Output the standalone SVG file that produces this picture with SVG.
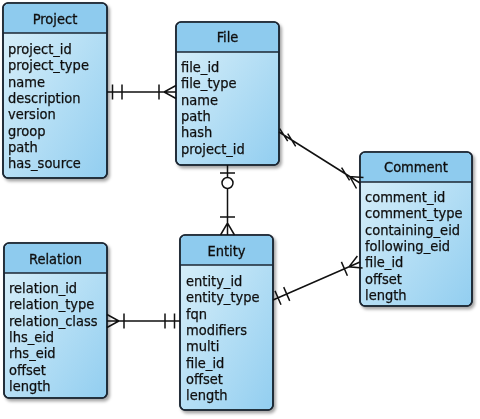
<svg xmlns="http://www.w3.org/2000/svg" width="480" height="419" viewBox="0 0 480 419">
<style>
.box{fill:url(#body);stroke:#1b2733;stroke-width:1.6}
.hdr{fill:#8ecbee;stroke:none}
.div{stroke:#1b2733;stroke-width:1.4}
.t{font-family:"DejaVu Sans Condensed","DejaVu Sans",Verdana,sans-serif;font-stretch:condensed;font-size:14.5px;fill:#111;stroke:#111;stroke-width:0.25}
.h{font-family:"DejaVu Sans Condensed","DejaVu Sans",Verdana,sans-serif;font-stretch:condensed;font-size:14.5px;fill:#111;stroke:#111;stroke-width:0.3;text-anchor:middle}
.c{stroke:#111;stroke-width:1.5;fill:none}
</style>
<defs>
<linearGradient id="body" x1="0" y1="0" x2="1" y2="1">
<stop offset="0" stop-color="#dcf1fa"/>
<stop offset="1" stop-color="#92cef0"/>
</linearGradient>
<filter id="sh" x="-10%" y="-10%" width="130%" height="130%">
<feDropShadow dx="2" dy="2.5" stdDeviation="1.6" flood-color="#000" flood-opacity="0.35"/>
</filter>
</defs>

<g id="project" filter="url(#sh)">
<rect class="box" x="3" y="3" width="104" height="175" rx="5"/>
<path class="hdr" d="M3.8,33 V8 A5,5 0 0 1 8,3.8 H102 A5,5 0 0 1 106.2,8 V33 Z"/>
<line class="div" x1="3" y1="33" x2="107" y2="33"/>
<rect x="3" y="3" width="104" height="175" rx="5" fill="none" stroke="#1b2733" stroke-width="1.6"/>
<text class="h" x="55" y="24">Project</text>
<text class="t" x="8" y="54">project_id</text>
<text class="t" x="8" y="70.3">project_type</text>
<text class="t" x="8" y="86.6">name</text>
<text class="t" x="8" y="102.9">description</text>
<text class="t" x="8" y="119.2">version</text>
<text class="t" x="8" y="135.5">groop</text>
<text class="t" x="8" y="151.8">path</text>
<text class="t" x="8" y="168.1">has_source</text>
</g>

<g id="file" filter="url(#sh)">
<rect class="box" x="176" y="22" width="103" height="143" rx="5"/>
<path class="hdr" d="M176.8,52 V27 A5,5 0 0 1 181,22.8 H274 A5,5 0 0 1 278.2,27 V52 Z"/>
<line class="div" x1="176" y1="52" x2="279" y2="52"/>
<rect x="176" y="22" width="103" height="143" rx="5" fill="none" stroke="#1b2733" stroke-width="1.6"/>
<text class="h" x="227.5" y="42">File</text>
<text class="t" x="181" y="72">file_id</text>
<text class="t" x="181" y="88.3">file_type</text>
<text class="t" x="181" y="104.6">name</text>
<text class="t" x="181" y="120.9">path</text>
<text class="t" x="181" y="137.2">hash</text>
<text class="t" x="181" y="153.5">project_id</text>
</g>

<g id="comment" filter="url(#sh)">
<rect class="box" x="360" y="152" width="112" height="154" rx="5"/>
<path class="hdr" d="M360.8,182 V157 A5,5 0 0 1 365,152.8 H467 A5,5 0 0 1 471.2,157 V182 Z"/>
<line class="div" x1="360" y1="182" x2="472" y2="182"/>
<rect x="360" y="152" width="112" height="154" rx="5" fill="none" stroke="#1b2733" stroke-width="1.6"/>
<text class="h" x="416" y="172">Comment</text>
<text class="t" x="365" y="202">comment_id</text>
<text class="t" x="365" y="218.3">comment_type</text>
<text class="t" x="365" y="234.6">containing_eid</text>
<text class="t" x="365" y="250.9">following_eid</text>
<text class="t" x="365" y="267.2">file_id</text>
<text class="t" x="365" y="283.5">offset</text>
<text class="t" x="365" y="299.8">length</text>
</g>

<g id="relation" filter="url(#sh)">
<rect class="box" x="4" y="243" width="103" height="155" rx="5"/>
<path class="hdr" d="M4.8,273 V248 A5,5 0 0 1 9,243.8 H102 A5,5 0 0 1 106.2,248 V273 Z"/>
<line class="div" x1="4" y1="273" x2="107" y2="273"/>
<rect x="4" y="243" width="103" height="155" rx="5" fill="none" stroke="#1b2733" stroke-width="1.6"/>
<text class="h" x="55.5" y="263.5">Relation</text>
<text class="t" x="9" y="293">relation_id</text>
<text class="t" x="9" y="309.3">relation_type</text>
<text class="t" x="9" y="325.6">relation_class</text>
<text class="t" x="9" y="341.9">lhs_eid</text>
<text class="t" x="9" y="358.2">rhs_eid</text>
<text class="t" x="9" y="374.5">offset</text>
<text class="t" x="9" y="390.8">length</text>
</g>

<g id="entity" filter="url(#sh)">
<rect class="box" x="180" y="235" width="93" height="175" rx="5"/>
<path class="hdr" d="M180.8,265 V240 A5,5 0 0 1 185,235.8 H268 A5,5 0 0 1 272.2,240 V265 Z"/>
<line class="div" x1="180" y1="265" x2="273" y2="265"/>
<rect x="180" y="235" width="93" height="175" rx="5" fill="none" stroke="#1b2733" stroke-width="1.6"/>
<text class="h" x="226.5" y="255.5">Entity</text>
<text class="t" x="186" y="286">entity_id</text>
<text class="t" x="186" y="302.3">entity_type</text>
<text class="t" x="186" y="318.6">fqn</text>
<text class="t" x="186" y="334.9">modifiers</text>
<text class="t" x="186" y="351.2">multi</text>
<text class="t" x="186" y="367.5">file_id</text>
<text class="t" x="186" y="383.8">offset</text>
<text class="t" x="186" y="400.1">length</text>
</g>

<g id="connectors">
<!-- Project - File -->
<path class="c" d="M107,92 H176 M112.5,84.5 V99.5 M122,84.5 V99.5 M159,84.5 V99.5 M176,85.5 L164,92 L176,98.5"/>
<!-- File - Entity -->
<path class="c" d="M227.5,165 V177.5 M227.5,188.5 V235 M220,173 H235 M220,217 H235 M220.5,235 L227.5,223 L234.5,235"/>
<circle class="c" cx="227.5" cy="183" r="5.5" style="fill:#fff"/>
<!-- File - Comment -->
<path class="c" d="M279,132 L360,183 M279.7,128.6 L287.7,141.2 M287.7,133.7 L295.7,146.3 M341.6,167.7 L349.6,180.3 M363.5,177.5 L349.8,176.6 L356.5,188.5"/>
<!-- Entity - Comment -->
<path class="c" d="M273,300 L360,262 M275,290.9 L281,304.7 M283.7,287.1 L289.7,300.9 M341.4,261.9 L347.4,275.7 M362.6,268 L349,266.8 L357.4,256"/>
<!-- Relation - Entity -->
<path class="c" d="M107,321 H180 M107,314.5 L119,321 L107,327.5 M124,313.5 V328.5 M165,313.5 V328.5 M174.5,313.5 V328.5"/>
</g>
</svg>
